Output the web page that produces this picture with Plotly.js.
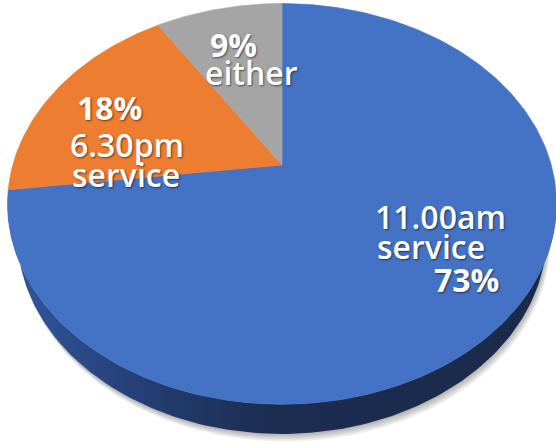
<!DOCTYPE html>
<html>
<head>
<meta charset="utf-8">
<script src="https://cdn.plot.ly/plotly-3.0.1.min.js"></script>
<style>html,body{margin:0;padding:0;background:#fff;}#chart{width:556px;height:444px;}</style>
</head>
<body>
<div id="chart"></div>
<script>
// ---- data ----
const sliceLabels = ['11.00am service', '6.30pm service', 'either'];
const sliceValues = [73, 18, 9];
const labelLines = [['11.00am', 'service'], ['6.30pm', 'service'], ['either']];

// ---- style ----
const sliceColors = ['#4472C4', '#ED7D31', '#A5A5A5'];
const sideColors = ['#1F3561', '#7A3E14', '#555555'];

// perspective projection of a tilted disc (pixel space)
const CX = 282, CY = 165, F = 968, D = 3.595, S = 0.716, C = 0.698, H = 0.178;
function proj(phi, w) {
  const u = Math.sin(phi), v = Math.cos(phi);
  const X = u, Y = v * S + w * C, Z = D + v * C - w * S;
  return [CX + F * X / Z, CY - F * Y / Z];
}
function arc(a0, a1, w) {
  const n = Math.max(2, Math.ceil(Math.abs(a1 - a0) / (Math.PI / 180)));
  const pts = [];
  for (let i = 0; i <= n; i++) pts.push(proj(a0 + (a1 - a0) * i / n, w));
  return pts;
}

const total = sliceValues.reduce((a, b) => a + b, 0);
const bounds = [];
let cum = 0;
sliceValues.forEach(v => { const a0 = cum / total * 2 * Math.PI; cum += v; bounds.push([a0, cum / total * 2 * Math.PI]); });

const traces = [];
// silhouette of the visible side
const phiA = Math.acos(-C / D), phiB = 2 * Math.PI - phiA;

// soft shadow
for (let k = 6; k >= 1; k--) {
  const pts = arc(phiA - 0.05, phiB + 0.05, -H).map(p => [p[0] + 0.6 * k, p[1] + 1.3 * k]);
  pts.push([CX, CY + 150]);
  traces.push({x: pts.map(p => p[0]), y: pts.map(p => p[1]), type: 'scatter', mode: 'lines',
    fill: 'toself', fillcolor: 'rgba(0,0,0,0.05)', line: {width: 0}, hoverinfo: 'skip'});
}

// sides
bounds.forEach((b, i) => {
  const a0 = Math.max(b[0], phiA), a1 = Math.min(b[1], phiB);
  if (a1 <= a0) return;
  const top = arc(a0, a1, 0), bot = arc(a0, a1, -H).reverse();
  const pts = top.concat(bot);
  pts.push(pts[0]);
  const tr = {x: pts.map(p => p[0]), y: pts.map(p => p[1]), type: 'scatter', mode: 'lines',
    fill: 'toself', line: {width: 0}, hoverinfo: 'skip'};
  if (i === 0) {
    tr.fillgradient = {type: 'horizontal', start: 0, stop: 556,
      colorscale: [[0, '#3458A0'], [0.12, '#2C4C8C'], [0.3, '#223B6C'], [0.48, '#1C2D52'], [1, '#1A2A4A']]};
  } else tr.fillcolor = sideColors[i];
  traces.push(tr);
});

// top face slices
bounds.forEach((b, i) => {
  const pts = [[CX, CY]].concat(arc(b[0], b[1], 0));
  pts.push([CX, CY]);
  traces.push({x: pts.map(p => p[0]), y: pts.map(p => p[1]), type: 'scatter', mode: 'lines',
    fill: 'toself', fillcolor: sliceColors[i], line: {width: 0.6, color: sliceColors[i]},
    name: sliceLabels[i], hoverinfo: 'name'});
});

// labels
const shadow = '1px 1px 2px rgba(0,0,0,0.55)';
const pct = sliceValues.map(v => v + '%');
const annSpec = [
  {t: labelLines[0][0], x: 373, y: 216, w: 600},
  {t: labelLines[0][1], x: 375, y: 246, w: 600},
  {t: pct[0], x: 432, y: 279, w: 700},
  {t: pct[1], x: 75, y: 107, w: 700},
  {t: labelLines[1][0], x: 68, y: 144, w: 600},
  {t: labelLines[1][1], x: 70, y: 174, w: 600},
  {t: pct[2], x: 208, y: 44, w: 700},
  {t: labelLines[2][0], x: 203, y: 72, w: 600}
];
const annotations = annSpec.map(a => ({
  text: a.t, x: a.x, y: a.y, xref: 'x', yref: 'y', xanchor: 'left', yanchor: 'middle',
  showarrow: false,
  font: {family: 'Open Sans, Noto Sans, sans-serif', size: 32, color: '#ffffff', weight: a.w, shadow: shadow}
}));

const layout = {
  width: 556, height: 444,
  margin: {l: 0, r: 0, t: 0, b: 0},
  paper_bgcolor: '#ffffff', plot_bgcolor: '#ffffff',
  showlegend: false,
  xaxis: {range: [0, 556], visible: false, fixedrange: true},
  yaxis: {range: [444, 0], visible: false, fixedrange: true},
  annotations: annotations
};
Plotly.newPlot('chart', traces, layout, {displayModeBar: false, staticPlot: true});
</script>
</body>
</html>
